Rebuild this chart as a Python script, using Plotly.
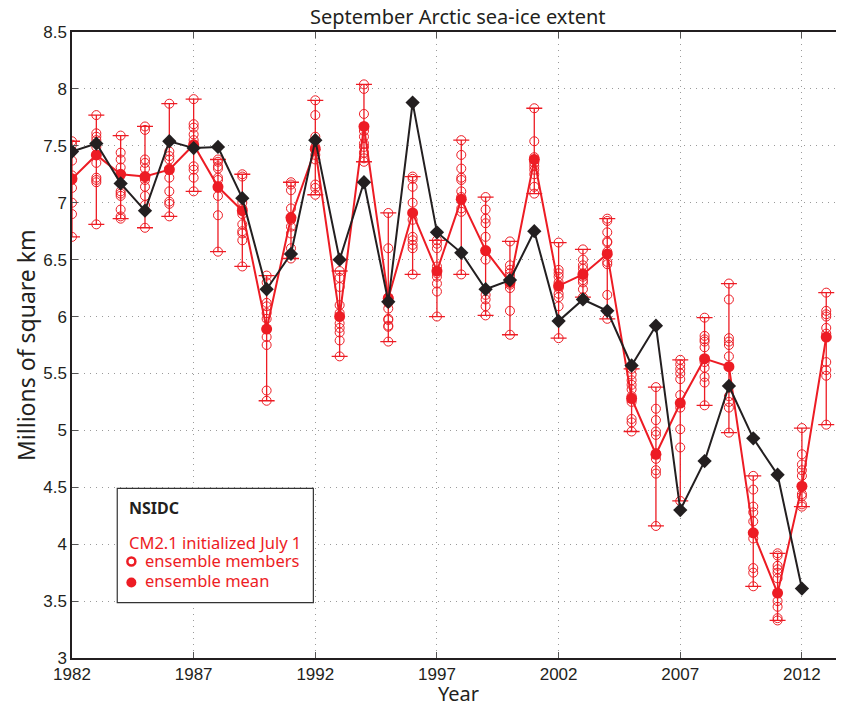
import plotly.graph_objects as go

# ---------------- data ----------------
years = list(range(1982, 2014))
nsidc_years = list(range(1982, 2013))
nsidc = [7.45, 7.52, 7.17, 6.93, 7.54, 7.48, 7.49, 7.04, 6.24, 6.55,
         7.55, 6.50, 7.18, 6.13, 7.88, 6.74, 6.56, 6.24, 6.32, 6.75,
         5.96, 6.15, 6.05, 5.57, 5.92, 4.30, 4.73, 5.39, 4.93, 4.61, 3.61]
ens_mean = [7.21, 7.42, 7.25, 7.23, 7.29, 7.51, 7.14, 6.93, 5.89, 6.87,
            7.47, 6.00, 7.67, 6.16, 6.91, 6.40, 7.03, 6.58, 6.30, 7.38,
            6.27, 6.37, 6.55, 5.28, 4.79, 5.24, 5.63, 5.56, 4.10, 3.57, 4.51, 5.82]
members = [
    [7.54, 7.51, 7.37, 7.24, 7.20, 7.13, 7.00, 6.90, 6.70, 7.45],  # 1982
    [7.77, 7.61, 7.58, 7.55, 7.49, 7.35, 7.20, 7.18, 7.22, 6.81],  # 1983
    [7.59, 7.44, 7.38, 7.31, 7.10, 7.08, 7.06, 6.94, 6.88, 6.86],  # 1984
    [7.67, 7.64, 7.38, 7.35, 7.14, 7.06, 6.98, 6.78, 7.30, 7.20],  # 1985
    [7.87, 7.41, 7.38, 7.30, 7.22, 7.01, 6.99, 6.88, 7.45, 7.10],  # 1986
    [7.91, 7.69, 7.66, 7.50, 7.32, 7.29, 7.22, 7.10, 7.60, 7.55],  # 1987
    [7.38, 7.36, 7.32, 7.22, 7.13, 7.06, 6.89, 6.57, 7.20, 7.30],  # 1988
    [7.25, 7.23, 6.81, 6.73, 6.67, 6.44, 6.95, 6.90, 7.00, 6.75],  # 1989
    [6.36, 6.30, 6.12, 6.09, 5.98, 5.82, 5.75, 5.35, 5.26, 6.03],  # 1990
    [7.18, 7.16, 7.11, 6.86, 6.79, 6.73, 6.60, 6.51, 6.95, 6.85],  # 1991
    [7.90, 7.77, 7.58, 7.49, 7.42, 7.38, 7.16, 7.13, 7.07, 7.55],  # 1992
    [6.40, 6.34, 6.26, 6.10, 6.03, 5.94, 5.90, 5.86, 5.79, 5.65],  # 1993
    [8.04, 8.00, 7.78, 7.63, 7.58, 7.52, 7.49, 7.44, 7.39, 7.36],  # 1994
    [6.91, 6.60, 6.17, 6.12, 6.07, 5.98, 5.97, 5.92, 5.91, 5.78],  # 1995
    [7.23, 7.21, 7.14, 7.00, 6.67, 6.63, 6.37, 6.70, 6.85, 6.60],  # 1996
    [6.67, 6.64, 6.44, 6.35, 6.29, 6.22, 6.00, 6.40, 6.60, 6.38],  # 1997
    [7.55, 7.42, 7.22, 7.20, 6.92, 6.37, 7.05, 6.95, 7.30, 7.10],  # 1998
    [7.05, 6.94, 6.86, 6.82, 6.70, 6.50, 6.19, 6.15, 6.09, 6.01],  # 1999
    [6.66, 6.41, 6.38, 6.05, 5.84, 6.30, 6.35, 6.25, 6.45, 6.28],  # 2000
    [7.83, 7.54, 7.35, 7.29, 7.14, 7.08, 7.40, 7.38, 7.25, 7.32],  # 2001
    [6.65, 6.41, 6.38, 6.25, 6.17, 6.09, 5.81, 6.30, 6.35, 6.20],  # 2002
    [6.59, 6.50, 6.42, 6.38, 6.32, 6.24, 6.17, 6.35, 6.45, 6.30],  # 2003
    [6.86, 6.84, 6.74, 6.66, 6.57, 6.48, 6.46, 6.19, 5.98, 6.65],  # 2004
    [5.54, 5.49, 5.44, 5.40, 5.36, 5.10, 5.07, 4.99, 5.30, 5.25],  # 2005
    [5.38, 5.19, 5.09, 4.99, 4.96, 4.65, 4.62, 4.16, 4.80, 4.75],  # 2006
    [5.62, 5.58, 5.54, 5.50, 5.31, 5.01, 4.85, 4.38, 5.45, 5.20],  # 2007
    [5.99, 5.83, 5.80, 5.73, 5.47, 5.42, 5.22, 5.60, 5.55, 5.78],  # 2008
    [6.29, 6.15, 5.81, 5.78, 5.75, 5.65, 5.30, 5.25, 5.20, 4.98],  # 2009
    [4.60, 4.48, 4.33, 4.28, 4.05, 3.79, 3.63, 4.20, 4.10, 3.75],  # 2010
    [3.92, 3.81, 3.78, 3.50, 3.33, 3.90, 3.75, 3.45, 3.35, 3.70],  # 2011
    [5.02, 4.79, 4.70, 4.60, 4.44, 4.42, 4.33, 4.50, 4.65, 4.35],  # 2012
    [6.21, 6.05, 6.00, 5.90, 5.53, 5.48, 5.05, 6.02, 5.85, 5.60],  # 2013
]
x_ticks = [1982, 1987, 1992, 1997, 2002, 2007, 2012]
x_tick_labels = ["1982", "1987", "1992", "1997", "2002", "2007", "2012"]
y_ticks = [3, 3.5, 4, 4.5, 5, 5.5, 6, 6.5, 7, 7.5, 8, 8.5]
y_tick_labels = ["3", "3.5", "4", "4.5", "5", "5.5", "6", "6.5", "7", "7.5", "8", "8.5"]

RED = "#ED1C24"
BLACK = "#231F20"

# ---------------- derived ----------------
mem_x = [y for y, m in zip(years, members) for _ in m]
mem_y = [v for m in members for v in m]
err_plus = [max(m) - mu for m, mu in zip(members, ens_mean)]
err_minus = [mu - min(m) for m, mu in zip(members, ens_mean)]

fig = go.Figure()

# ensemble members
fig.add_trace(go.Scatter(
    x=mem_x, y=mem_y, mode="markers",
    marker=dict(symbol="circle-open", size=9, color=RED, line=dict(width=1, color=RED)),
    showlegend=False, hoverinfo="skip"))

# ensemble mean with range bars
fig.add_trace(go.Scatter(
    x=years, y=ens_mean, mode="lines+markers",
    line=dict(color=RED, width=2),
    marker=dict(symbol="circle", size=11, color=RED),
    error_y=dict(type="data", symmetric=False, array=err_plus, arrayminus=err_minus,
                 color=RED, thickness=1.3, width=8),
    showlegend=False))

# NSIDC observations
fig.add_trace(go.Scatter(
    x=nsidc_years, y=nsidc, mode="lines+markers",
    line=dict(color=BLACK, width=2),
    marker=dict(symbol="diamond", size=11, color=BLACK),
    showlegend=False))

# legend box markers
fig.add_trace(go.Scatter(
    x=[1984.44], y=[3.848], mode="markers",
    marker=dict(symbol="circle-open", size=8, color=RED, line=dict(width=2.5, color=RED)),
    showlegend=False, hoverinfo="skip"))
fig.add_trace(go.Scatter(
    x=[1984.44], y=[3.663], mode="markers",
    marker=dict(symbol="circle", size=10, color=RED),
    showlegend=False, hoverinfo="skip"))

fig.add_shape(type="rect", xref="x", yref="y", x0=1983.86, x1=1991.92, y0=3.487, y1=4.49,
              fillcolor="white", line=dict(color="#333333", width=1.2), layer="between")

LFONT = "Noto Sans"
fig.add_annotation(x=1984.28, y=4.316, xref="x", yref="y", text="<b>NSIDC</b>",
                   showarrow=False, xanchor="left", yanchor="middle",
                   font=dict(family=LFONT, size=16, color=BLACK))
fig.add_annotation(x=1984.28, y=4.015, xref="x", yref="y", text="CM2.1 initialized July 1",
                   showarrow=False, xanchor="left", yanchor="middle",
                   font=dict(family=LFONT, size=16.5, color=RED))
fig.add_annotation(x=1984.93, y=3.857, xref="x", yref="y", text="ensemble members",
                   showarrow=False, xanchor="left", yanchor="middle",
                   font=dict(family=LFONT, size=16.5, color=RED))
fig.add_annotation(x=1984.93, y=3.68, xref="x", yref="y", text="ensemble mean",
                   showarrow=False, xanchor="left", yanchor="middle",
                   font=dict(family=LFONT, size=16.5, color=RED))

# titles
fig.add_annotation(x=0.5, y=1.0245, xref="paper", yref="paper", text="September Arctic sea-ice extent",
                   showarrow=False, xanchor="center", yanchor="middle",
                   font=dict(family=LFONT, size=20, color=BLACK))
fig.add_annotation(x=-0.0596, y=0.5, xref="paper", yref="paper", text="Millions of square km",
                   showarrow=False, textangle=-90, xanchor="center", yanchor="middle",
                   font=dict(family=LFONT, size=23, color=BLACK))
fig.add_annotation(x=0.5, y=-0.0564, xref="paper", yref="paper", text="Year",
                   showarrow=False, xanchor="center", yanchor="middle",
                   font=dict(family=LFONT, size=20, color=BLACK))

TFONT = dict(family="Liberation Sans", size=17, color=BLACK)
GRID = dict(showgrid=True, gridcolor="#9a9a9a", griddash="1px,5px", gridwidth=1)
fig.update_xaxes(range=[1982, 2013.73], tickvals=x_ticks, ticktext=x_tick_labels,
                 showline=True, linecolor=BLACK, linewidth=1.5, mirror="ticks",
                 ticks="inside", ticklen=6, tickcolor="#555555", tickfont=TFONT,
                 zeroline=False, **GRID)
fig.update_yaxes(range=[3, 8.5], tickvals=y_ticks, ticktext=y_tick_labels,
                 showline=True, linecolor=BLACK, linewidth=1.5,
                 ticks="inside", ticklen=6, tickcolor="#555555", tickfont=TFONT,
                 zeroline=False, **GRID)

# the page body adds an 8px offset; compensate so the plot area lands at x=72, y=32
fig.update_layout(width=836, height=696, margin=dict(l=64, r=0, t=24, b=46, autoexpand=False),
                  plot_bgcolor="white", paper_bgcolor="white", showlegend=False)

fig.write_html("out.html")
